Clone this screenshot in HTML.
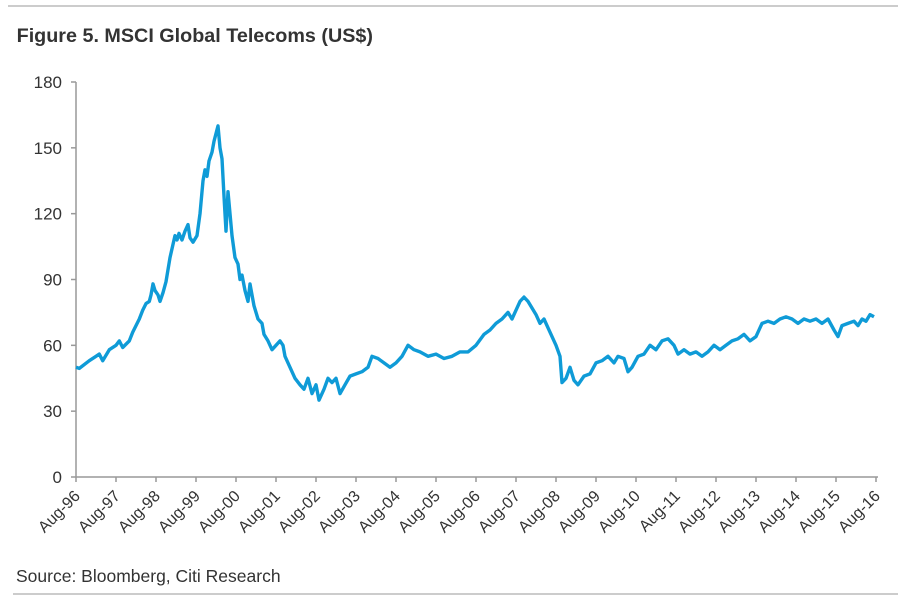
<!DOCTYPE html>
<html><head><meta charset="utf-8"><style>
body{margin:0;background:#fff;width:902px;height:602px;overflow:hidden;font-family:"Liberation Sans",Arial,sans-serif;}
</style></head><body>
<svg id="chart" width="902" height="602" xmlns="http://www.w3.org/2000/svg">
<line x1="8" y1="6" x2="898" y2="6" stroke="#999" stroke-width="1"/>
<text x="16" y="42" font-weight="bold" font-size="19" fill="#333" transform="scale(1.04,1)">Figure 5. MSCI Global Telecoms (US$)</text>
<g id="axes"></g>
<path id="series" fill="none" stroke="#0f9bd7" stroke-width="3.4" stroke-linejoin="round"/>
<text x="16" y="582" font-size="17.5" fill="#333">Source: Bloomberg, Citi Research</text>
<line x1="13" y1="594" x2="898" y2="594" stroke="#999" stroke-width="1"/>
</svg>
<script>
const yTicks=[0,30,60,90,120,150,180];
const xTickLabels=["Aug-96","Aug-97","Aug-98","Aug-99","Aug-00","Aug-01","Aug-02","Aug-03","Aug-04","Aug-05","Aug-06","Aug-07","Aug-08","Aug-09","Aug-10","Aug-11","Aug-12","Aug-13","Aug-14","Aug-15","Aug-16"];
const months=[0,1,4,6,7,8,10,12,13,14,16,17,19,20,21,22,22.5,23.1,23.7,24.6,25.2,26.1,27,28.2,29.1,29.7,30.3,30.9,31.8,32.7,33.6,34.2,35.1,36.3,37.2,38.1,38.7,39.3,39.9,40.8,41.4,42.6,43.2,43.8,44.4,45,45.6,46.2,46.8,47.7,48.6,49.2,49.8,50.7,51.6,52.2,53.4,54.6,55.8,56.4,57.6,58.8,60,61.2,62.1,62.7,64.2,65.7,67.2,68.4,69.6,70.8,72,72.9,74.4,75.6,76.8,78,79.2,80.7,82.2,84,85.8,87.6,88.8,90.6,92.4,94.2,96,97.8,99.6,101.4,103.2,105.6,108,110.4,112.8,115.2,117.6,120,122.4,124.2,126,127.8,129.6,130.8,132,133.2,134.4,135.6,136.8,138,139.2,140.4,141.6,142.8,144,145.2,145.8,147,148.2,149.4,150.6,152.4,154.2,156,157.8,159.6,161.4,162.6,164.4,165.6,166.8,168.6,170.4,172.2,174,175.8,177.6,179.4,180.6,182.4,184.2,186,187.8,189.6,191.4,193.2,195,196.8,198.6,200.4,202.2,204,205.8,207.6,209.4,211.2,213,214.8,216.6,218.4,220.2,222,223.8,225.6,227.4,228.6,229.8,231.6,233.4,234.6,235.8,237,238.2,239.4];
const values=[50,49.5,53,55,56,53,58,60,62,59,62,66,72,76,79,80,83,88,85,83,80,84,89,100,106,110,108,111,108,112,115,109,107,110,120,135,140,137,144,148,153,160,150,145,128,112,130,120,110,100,97,90,92,85,80,88,78,72,70,65,62,58,60,62,60,55,50,45,42,40,45,38,42,35,40,45,43,45,38,42,46,47,48,50,55,54,52,50,52,55,60,58,57,55,56,54,55,57,57,60,65,67,70,72,75,72,76,80,82,80,77,74,70,72,68,64,60,55,43,45,50,44,42,46,47,52,53,55,52,55,54,48,50,55,56,60,58,62,63,60,56,58,56,57,55,57,60,58,60,62,63,65,62,64,70,71,70,72,73,72,70,72,71,72,70,72,67,64,69,70,71,69,72,71,74,73];
const X0=76,X1=876,Y0=477,Y1=82;
const xScale=m=>X0+(X1-X0)*m/240;
const yScale=v=>Y0-(Y0-Y1)*v/180;
const NS="http://www.w3.org/2000/svg";
const axes=document.getElementById('axes');
function mk(tag,attrs){const e=document.createElementNS(NS,tag);for(const k in attrs)e.setAttribute(k,attrs[k]);axes.appendChild(e);return e;}
let e=mk('line',{x1:X0,y1:Y1,x2:X0,y2:Y0,stroke:'#999','stroke-width':1.5});


e=mk('line',{x1:X0,y1:Y0,x2:X1+2,y2:Y0,stroke:'#999','stroke-width':1.5});


yTicks.forEach(v=>{
  const y=yScale(v);
  let t=mk('line',{x1:X0-5,y1:y,x2:X0,y2:y,stroke:'#999','stroke-width':1.5});
  
  
  let l=mk('text',{x:X0-14,y:y+6,'text-anchor':'end','font-size':17,fill:'#333'});
  l.textContent=v;
  
  
});
xTickLabels.forEach((s,i)=>{
  const x=xScale(i*12);
  let t=mk('line',{x1:x,y1:Y0,x2:x,y2:Y0+5,stroke:'#999','stroke-width':1.5});
  
  
  let l=mk('text',{x:x+5,y:Y0+20,'text-anchor':'end','font-size':16,fill:'#333',transform:`rotate(-45 ${x+5} ${Y0+20})`});
  l.textContent=s;
  
  
});
document.getElementById('series').setAttribute('d',months.map((m,i)=>(i?'L':'M')+xScale(m).toFixed(1)+' '+yScale(values[i]).toFixed(1)).join(' '));
</script>
</body></html>
